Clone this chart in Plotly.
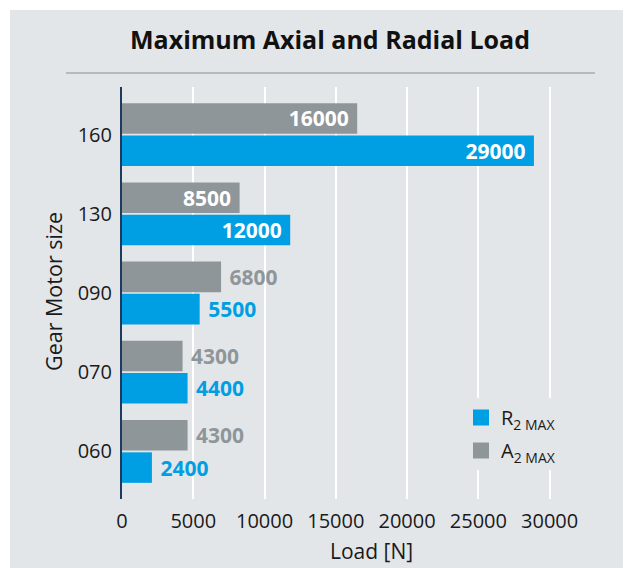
import plotly.graph_objects as go

sizes = ["060", "070", "090", "130", "160"]
# bar lengths as drawn in the chart
radial = [2100, 4600, 5450, 11800, 28900]
axial = [4600, 4250, 6950, 8250, 16500]
# printed value labels
radial_labels = ["2400", "4400", "5500", "12000", "29000"]
axial_labels = ["4300", "4300", "6800", "8500", "16000"]
radial_inside = [False, False, False, True, True]
axial_inside = [False, False, False, True, True]
x_ticks = [0, 5000, 10000, 15000, 20000, 25000, 30000]

BLUE = "#009FE3"
GRAY = "#8F9699"
BG = "#E3E6E9"
FONT = "Open Sans"
NB = "\u00a0"

# page offset (browser body margin)
OFF = 8
W, H = 631, 568
L, T = 122 - OFF, 87 - OFF
pw, ph = 449, 412
R = W - L - pw
B = H - T - ph


def px(x):
    return (x - OFF - L) / pw


def py(y):
    return (T + ph - (y - OFF)) / ph


def labels(texts, inside):
    return [f"<b>{t}</b>{NB}" if ins else f"{NB}<b>{t}</b>" for t, ins in zip(texts, inside)]


fig = go.Figure()
fig.add_trace(go.Bar(
    y=sizes, x=radial, orientation="h", marker=dict(color=BLUE, line=dict(width=0)),
    name="R", showlegend=False,
    text=labels(radial_labels, radial_inside),
    textposition=["inside" if i else "outside" for i in radial_inside],
    insidetextanchor="end", textangle=0, cliponaxis=False, constraintext="none",
    textfont=dict(family=FONT, size=21, color=["white" if i else BLUE for i in radial_inside])))
fig.add_trace(go.Bar(
    y=sizes, x=axial, orientation="h", marker=dict(color=GRAY, line=dict(width=0)),
    name="A", showlegend=False,
    text=labels(axial_labels, axial_inside),
    textposition=["inside" if i else "outside" for i in axial_inside],
    insidetextanchor="end", textangle=0, cliponaxis=False, constraintext="none",
    textfont=dict(family=FONT, size=21, color=["white" if i else GRAY for i in axial_inside])))
# legend entries
fig.add_trace(go.Scatter(x=[None], y=[None], mode="markers", name="R<sub>2 MAX</sub>", legendgroup="r",
                         marker=dict(symbol="square", size=16, color=BLUE, line=dict(width=0))))
fig.add_trace(go.Scatter(x=[None], y=[None], mode="markers", name="A<sub>2 MAX</sub>", legendgroup="a",
                         marker=dict(symbol="square", size=16, color=GRAY, line=dict(width=0))))

annotations = [
    dict(x=px(371), y=py(551), xref="paper", yref="paper", text="Load [N]",
         showarrow=False, xanchor="center", yanchor="middle",
         font=dict(family=FONT, size=21, color="#1a1a1a")),
    dict(x=px(53), y=py(292), xref="paper", yref="paper", text="Gear Motor size",
         showarrow=False, xanchor="center", yanchor="middle", textangle=-90,
         font=dict(family=FONT, size=21.5, color="#1a1a1a")),
]

shapes = [
    dict(type="rect", xref="paper", yref="paper", x0=px(10), x1=px(W + 40), y0=py(H + 40), y1=py(10),
         fillcolor=BG, line=dict(width=0), layer="below"),
    dict(type="line", xref="paper", yref="paper", x0=px(66), x1=px(595), y0=py(73), y1=py(73),
         line=dict(color="#8C8C8C", width=1)),
]

fig.update_layout(
    width=W, height=H,
    margin=dict(l=L, r=R, t=T, b=B, pad=0),
    paper_bgcolor="white", plot_bgcolor=BG,
    barmode="group", bargap=0.186, bargroupgap=0.054,
    title=dict(text="<b>Maximum Axial and Radial Load</b>", x=(330 - OFF) / W, xanchor="center",
               y=1 - (40 - OFF) / H, yanchor="middle", font=dict(family=FONT, size=25, color="#111111")),
    font=dict(family=FONT, size=20, color="#1a1a1a"),
    xaxis=dict(range=[0, 31500], tickvals=x_ticks, ticktext=[str(t) for t in x_ticks],
               showgrid=True, gridcolor="white", gridwidth=2, zeroline=False, showline=False,
               ticks="", ticklabelstandoff=8, tickfont=dict(family=FONT, size=20, color="#1a1a1a")),
    yaxis=dict(type="category", categoryorder="array", categoryarray=sizes, range=[-0.6, 4.6],
               showgrid=False, zeroline=False, showline=True, linecolor="#1F3A5F", linewidth=2,
               ticks="", ticklabelstandoff=4, tickfont=dict(family=FONT, size=20, color="#1a1a1a")),
    legend=dict(x=px(461), y=py(398), xanchor="left", yanchor="top", bgcolor=BG,
                font=dict(family=FONT, size=20, color="#1a1a1a"), tracegroupgap=4,
                itemsizing="trace"),
    annotations=annotations, shapes=shapes,
)

fig.write_html("out.html")
